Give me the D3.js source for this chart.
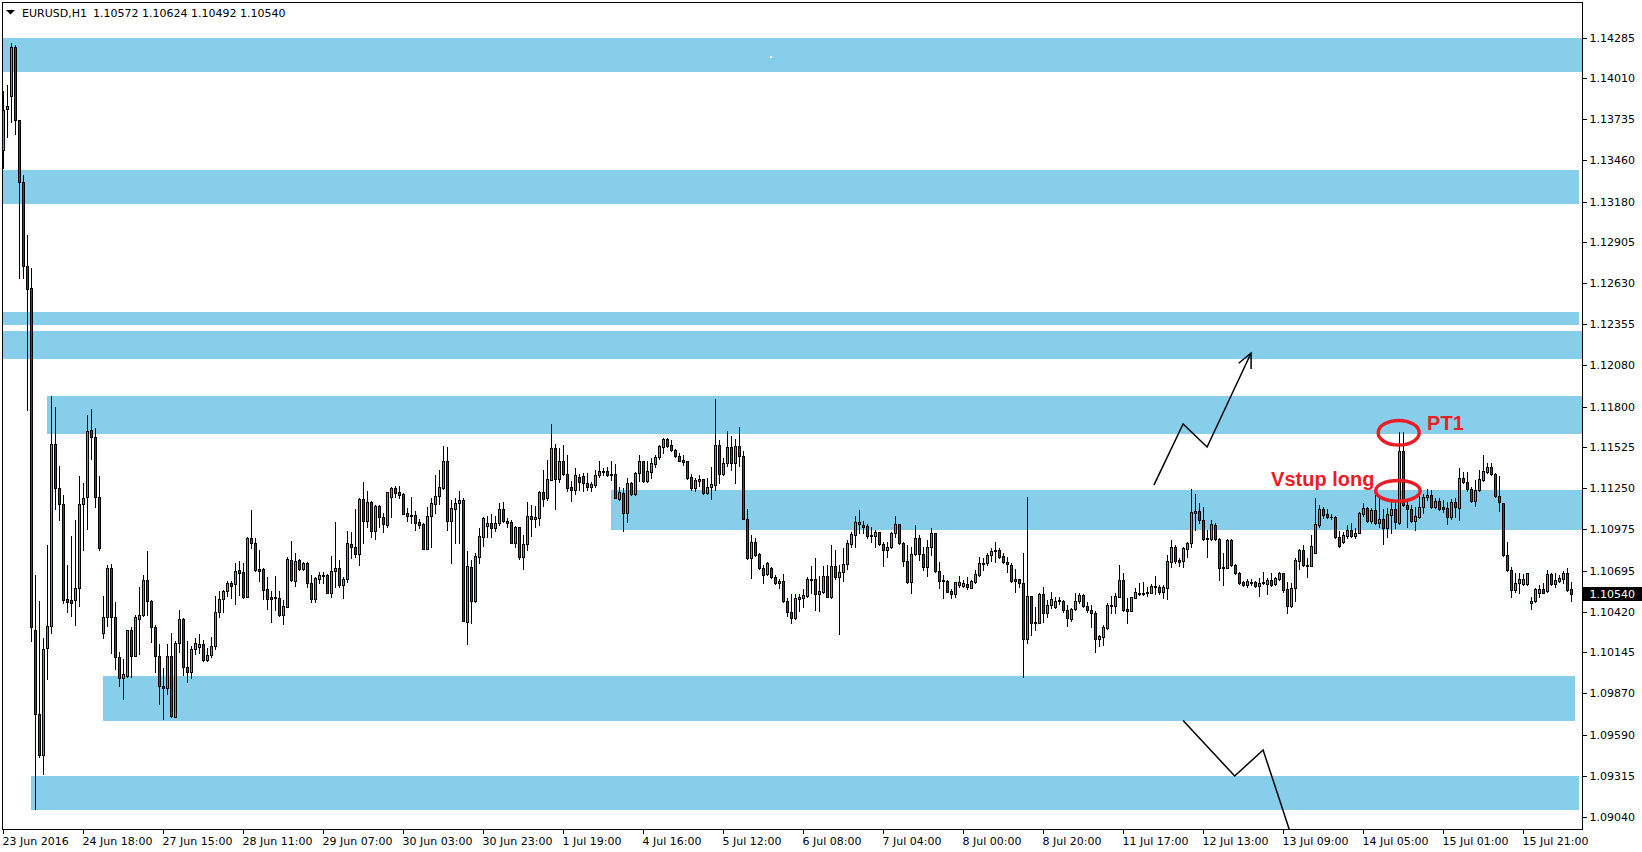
<!DOCTYPE html>
<html><head><meta charset="utf-8">
<script src="https://cdn.jsdelivr.net/npm/d3@7"></script>
<style>html,body{margin:0;padding:0;background:#fff;overflow:hidden}svg{display:block}</style>
</head><body><svg id="c" width="1642" height="852"></svg>
<script>
// ---- data (EURUSD H1) ----
const open=[1.13528,1.13810,1.13893,1.14222,1.13736,1.13317,1.12748,1.12604,1.10302,1.09733,
1.09455,1.10178,1.10326,1.11552,1.11257,1.11150,1.10510,1.10500,1.10500,1.10580,
1.11150,1.11197,1.11646,1.11599,1.11197,1.10279,1.10386,1.10714,1.10386,1.10118,
1.09977,1.09991,1.10302,1.10125,1.10376,1.10403,1.10637,1.10497,1.10319,1.10125,
1.09924,1.09910,1.10124,1.09716,1.10209,1.10371,1.10048,1.10018,1.10169,1.10187,
1.10202,1.10095,1.10128,1.10189,1.10418,1.10505,1.10562,1.10615,1.10606,1.10701,
1.10687,1.10523,1.10916,1.10882,1.10707,1.10707,1.10573,1.10519,1.10519,1.10512,
1.10398,1.10456,1.10768,1.10627,1.10770,1.10710,1.10750,1.10615,1.10510,1.10645,
1.10665,1.10669,1.10550,1.10694,1.10714,1.10604,1.10640,1.10876,1.10856,1.10808,
1.11181,1.11031,1.11158,1.10968,1.11134,1.11057,1.11008,1.11197,1.11255,1.11228,
1.11212,1.11084,1.11073,1.11073,1.11024,1.11013,1.10847,1.11066,1.11149,1.11199,
1.11255,1.11437,1.11035,1.11116,1.11152,1.11174,1.10355,1.10721,1.10496,1.10793,
1.10927,1.11001,1.11017,1.10988,1.11017,1.11111,1.11031,1.11024,1.10887,1.10990,
1.10793,1.10876,1.11066,1.11044,1.11051,1.11228,1.11188,1.11311,1.11522,1.11316,
1.11437,1.11347,1.11262,1.11244,1.11329,1.11333,1.11286,1.11264,1.11277,1.11340,
1.11363,1.11367,1.11349,1.11347,1.11183,1.11219,1.11084,1.11286,1.11217,1.11354,
1.11437,1.11304,1.11365,1.11417,1.11461,1.11529,1.11583,1.11544,1.11511,1.11470,
1.11443,1.11437,1.11327,1.11255,1.11304,1.11313,1.11221,1.11259,1.11277,1.11544,
1.11351,1.11421,1.11529,1.11425,1.11535,1.11470,1.11048,1.10781,1.10889,1.10811,
1.10714,1.10674,1.10719,1.10654,1.10613,1.10629,1.10492,1.10418,1.10382,1.10510,
1.10517,1.10530,1.10636,1.10642,1.10544,1.10557,1.10660,1.10519,1.10730,1.10658,
1.10692,1.10741,1.10880,1.10941,1.11010,1.11006,1.10999,1.10941,1.10934,1.10956,
1.10876,1.10840,1.10855,1.10950,1.11010,1.10887,1.10766,1.10624,1.10808,1.10916,
1.10813,1.10725,1.10860,1.10950,1.10698,1.10636,1.10631,1.10561,1.10539,1.10604,
1.10597,1.10611,1.10584,1.10624,1.10669,1.10741,1.10748,1.10804,1.10828,1.10837,
1.10797,1.10757,1.10739,1.10640,1.10640,1.10618,1.10238,1.10528,1.10355,1.10348,
1.10541,1.10411,1.10467,1.10452,1.10501,1.10494,1.10434,1.10371,1.10438,1.10492,
1.10535,1.10463,1.10434,1.10416,1.10241,1.10250,1.10310,1.10460,1.10463,1.10523,
1.10636,1.10438,1.10429,1.10517,1.10541,1.10544,1.10546,1.10550,1.10586,1.10591,
1.10557,1.10584,1.10759,1.10860,1.10770,1.10761,1.10846,1.10882,1.11084,1.11100,
1.11039,1.10916,1.10912,1.11006,1.10914,1.10722,1.10719,1.10906,1.10737,1.10686,
1.10625,1.10603,1.10618,1.10625,1.10598,1.10616,1.10607,1.10636,1.10607,1.10645,
1.10681,1.10573,1.10461,1.10585,1.10766,1.10838,1.10737,1.10733,1.10820,1.11006,
1.11114,1.11078,1.11063,1.11063,1.10923,1.10894,1.10935,1.10971,1.10935,1.10955,
1.11081,1.11119,1.11036,1.11107,1.11022,1.11047,1.10984,1.11074,1.11112,1.11020,
1.11505,1.11141,1.11112,1.11036,1.11063,1.11125,1.11193,1.11206,1.11125,1.11168,
1.11130,1.11119,1.11058,1.11159,1.11123,1.11321,1.11298,1.11247,1.11170,1.11242,
1.11309,1.11366,1.11399,1.11350,1.11204,1.11152,1.10805,1.10704,1.10569,1.10614,
1.10609,1.10609,1.10479,1.10495,1.10551,1.10573,1.10564,1.10677,1.10609,1.10632,
1.10641,1.10681,1.10572];
const high=[1.13927,1.13971,1.14249,1.14240,1.13736,1.13361,1.12959,1.12738,1.10671,1.10493,
1.10245,1.10872,1.11877,1.11800,1.11401,1.11207,1.10738,1.10929,1.11039,1.11334,
1.11291,1.11749,1.11786,1.11659,1.11334,1.10527,1.10738,1.10744,1.10486,1.10151,
1.10101,1.10302,1.10319,1.10403,1.10587,1.10671,1.10832,1.10503,1.10336,1.10202,
1.10044,1.10202,1.10277,1.10227,1.10434,1.10380,1.10225,1.10194,1.10245,1.10272,
1.10232,1.10176,1.10252,1.10528,1.10564,1.10568,1.10629,1.10629,1.10752,1.10764,
1.10752,1.10927,1.11107,1.10916,1.10838,1.10714,1.10654,1.10562,1.10663,1.10562,
1.10501,1.10793,1.10898,1.10815,1.10777,1.10759,1.10755,1.10667,1.10654,1.10692,
1.10687,1.10676,1.10797,1.11024,1.10770,1.10658,1.10965,1.10956,1.11111,1.11190,
1.11295,1.11235,1.11165,1.11140,1.11140,1.11089,1.11230,1.11264,1.11268,1.11268,
1.11219,1.11120,1.11197,1.11100,1.11044,1.11017,1.11127,1.11188,1.11342,1.11376,
1.11538,1.11533,1.11174,1.11190,1.11235,1.11185,1.10831,1.10770,1.10815,1.10983,
1.11062,1.11069,1.11080,1.11066,1.11156,1.11158,1.11051,1.11040,1.11001,1.10995,
1.10939,1.11158,1.11138,1.11134,1.11232,1.11376,1.11443,1.11686,1.11549,1.11522,
1.11544,1.11477,1.11302,1.11387,1.11347,1.11354,1.11358,1.11298,1.11376,1.11437,
1.11387,1.11394,1.11434,1.11417,1.11259,1.11253,1.11325,1.11298,1.11365,1.11477,
1.11440,1.11437,1.11455,1.11475,1.11542,1.11590,1.11590,1.11578,1.11515,1.11493,
1.11475,1.11440,1.11349,1.11320,1.11342,1.11316,1.11325,1.11399,1.11854,1.11578,
1.11455,1.11639,1.11607,1.11585,1.11663,1.11504,1.11114,1.10939,1.10916,1.10815,
1.10737,1.10759,1.10725,1.10669,1.10640,1.10676,1.10512,1.10539,1.10539,1.10539,
1.10573,1.10658,1.10730,1.10784,1.10665,1.10730,1.10734,1.10871,1.10835,1.10737,
1.10849,1.10905,1.10961,1.11066,1.11107,1.11035,1.11010,1.10990,1.10972,1.10961,
1.10889,1.10894,1.10961,1.11066,1.11013,1.10891,1.10871,1.10860,1.11006,1.10938,
1.10860,1.10905,1.10983,1.10954,1.10754,1.10669,1.10636,1.10573,1.10624,1.10662,
1.10636,1.10653,1.10636,1.10703,1.10788,1.10781,1.10815,1.10849,1.10894,1.10849,
1.10815,1.10793,1.10752,1.10707,1.10645,1.10815,1.11197,1.10530,1.10456,1.10546,
1.10591,1.10501,1.10552,1.10523,1.10523,1.10501,1.10465,1.10445,1.10546,1.10550,
1.10541,1.10490,1.10467,1.10427,1.10265,1.10333,1.10478,1.10528,1.10546,1.10736,
1.10685,1.10512,1.10523,1.10579,1.10613,1.10620,1.10591,1.10606,1.10662,1.10602,
1.10602,1.10804,1.10905,1.10871,1.10781,1.10860,1.10894,1.11248,1.11214,1.11152,
1.11129,1.10972,1.11039,1.11017,1.10916,1.10816,1.10910,1.10910,1.10742,1.10690,
1.10630,1.10641,1.10641,1.10632,1.10647,1.10688,1.10647,1.10686,1.10659,1.10692,
1.10686,1.10625,1.10618,1.10782,1.10845,1.10872,1.10787,1.10939,1.11186,1.11141,
1.11125,1.11112,1.11078,1.11068,1.10966,1.10962,1.11006,1.11018,1.10984,1.11096,
1.11152,1.11125,1.11119,1.11208,1.11191,1.11114,1.11119,1.11164,1.11175,1.11635,
1.11635,1.11179,1.11141,1.11130,1.11202,1.11215,1.11247,1.11242,1.11186,1.11191,
1.11175,1.11164,1.11179,1.11186,1.11388,1.11366,1.11366,1.11260,1.11309,1.11377,
1.11478,1.11426,1.11426,1.11359,1.11336,1.11152,1.10894,1.10722,1.10681,1.10681,
1.10677,1.10686,1.10524,1.10580,1.10603,1.10618,1.10704,1.10681,1.10681,1.10670,
1.10699,1.10715,1.10624];
const low=[1.13408,1.13619,1.13719,1.13636,1.12671,1.12671,1.11783,1.10225,1.09096,1.09441,
1.09331,1.09967,1.10279,1.11116,1.11039,1.10480,1.10420,1.10393,1.10336,1.10463,
1.10838,1.10982,1.11448,1.11130,1.10838,1.10245,1.10326,1.10145,1.10034,1.09924,
1.09833,1.09984,1.09984,1.10125,1.10135,1.10393,1.10403,1.10218,1.10017,1.09800,
1.09699,1.09867,1.09716,1.09711,1.10153,1.09996,1.09947,1.09978,1.10135,1.10142,
1.10090,1.10090,1.10119,1.10169,1.10389,1.10422,1.10528,1.10517,1.10472,1.10535,
1.10517,1.10519,1.10849,1.10698,1.10631,1.10510,1.10440,1.10351,1.10434,1.10395,
1.10337,1.10452,1.10631,1.10597,1.10703,1.10703,1.10586,1.10485,1.10485,1.10613,
1.10618,1.10546,1.10519,1.10591,1.10586,1.10512,1.10624,1.10781,1.10793,1.10734,
1.10887,1.10995,1.10927,1.10909,1.10995,1.10961,1.10995,1.11062,1.11197,1.11185,
1.11078,1.11035,1.11017,1.10972,1.10983,1.10843,1.10842,1.10860,1.11084,1.11147,
1.11248,1.10972,1.10752,1.10887,1.10887,1.10358,1.10205,1.10344,1.10490,1.10752,
1.10867,1.10927,1.10927,1.10965,1.11006,1.11028,1.10990,1.10882,1.10860,1.10779,
1.10710,1.10838,1.10934,1.10995,1.11006,1.11134,1.11174,1.11307,1.11116,1.11298,
1.11342,1.11237,1.11170,1.11215,1.11241,1.11237,1.11241,1.11235,1.11264,1.11331,
1.11342,1.11336,1.11309,1.11185,1.11174,1.10968,1.11024,1.11208,1.11206,1.11304,
1.11298,1.11298,1.11322,1.11399,1.11452,1.11493,1.11533,1.11506,1.11461,1.11434,
1.11410,1.11313,1.11241,1.11235,1.11268,1.11215,1.11217,1.11183,1.11241,1.11286,
1.11345,1.11405,1.11376,1.11291,1.11403,1.11044,1.10777,1.10651,1.10799,1.10707,
1.10613,1.10669,1.10647,1.10609,1.10579,1.10488,1.10393,1.10348,1.10371,1.10429,
1.10456,1.10523,1.10546,1.10436,1.10425,1.10546,1.10519,1.10515,1.10642,1.10272,
1.10629,1.10707,1.10860,1.10860,1.10950,1.10950,1.10921,1.10894,1.10860,1.10871,
1.10730,1.10793,1.10849,1.10927,1.10878,1.10732,1.10618,1.10550,1.10804,1.10770,
1.10703,1.10665,1.10804,1.10692,1.10579,1.10517,1.10552,1.10512,1.10523,1.10591,
1.10586,1.10577,1.10579,1.10613,1.10662,1.10703,1.10736,1.10766,1.10759,1.10781,
1.10748,1.10692,1.10622,1.10557,1.10591,1.09985,1.10209,1.10263,1.10299,1.10344,
1.10355,1.10389,1.10445,1.10445,1.10474,1.10422,1.10328,1.10362,1.10434,1.10478,
1.10456,1.10422,1.10321,1.10149,1.10193,1.10198,1.10306,1.10411,1.10411,1.10519,
1.10427,1.10348,1.10427,1.10512,1.10535,1.10535,1.10528,1.10546,1.10541,1.10541,
1.10512,1.10508,1.10725,1.10748,1.10730,1.10725,1.10788,1.10860,1.10972,1.11017,
1.10905,1.10788,1.10905,1.10905,1.10636,1.10603,1.10715,1.10730,1.10677,1.10609,
1.10596,1.10591,1.10603,1.10591,1.10531,1.10609,1.10542,1.10598,1.10603,1.10636,
1.10558,1.10412,1.10457,1.10493,1.10713,1.10733,1.10659,1.10730,1.10816,1.10995,
1.11051,1.11051,1.11045,1.10921,1.10861,1.10888,1.10921,1.10928,1.10917,1.10950,
1.11069,1.11029,1.11022,1.11013,1.10995,1.10879,1.10923,1.10955,1.10984,1.11011,
1.11134,1.10995,1.11029,1.10973,1.11051,1.11090,1.11175,1.11119,1.11119,1.11107,
1.11096,1.11013,1.11045,1.11063,1.11040,1.11287,1.11238,1.11164,1.11134,1.11238,
1.11305,1.11359,1.11343,1.11197,1.11103,1.10800,1.10699,1.10524,1.10558,1.10551,
1.10603,1.10603,1.10439,1.10490,1.10524,1.10546,1.10558,1.10603,1.10591,1.10625,
1.10618,1.10564,1.10492];
const close=[1.13803,1.13830,1.14222,1.13736,1.13317,1.12748,1.12597,1.10319,1.09733,1.09455,
1.10168,1.10326,1.11552,1.11257,1.11150,1.10503,1.10486,1.10483,1.10580,1.11150,
1.11190,1.11639,1.11599,1.11197,1.10848,1.10386,1.10714,1.10386,1.10118,1.09977,
1.10001,1.10302,1.10125,1.10386,1.10403,1.10637,1.10497,1.10319,1.10125,1.09924,
1.09910,1.10125,1.09722,1.10209,1.10371,1.10048,1.10018,1.10169,1.10209,1.10202,
1.10095,1.10128,1.10189,1.10418,1.10505,1.10562,1.10615,1.10597,1.10698,1.10685,
1.10523,1.10916,1.10882,1.10703,1.10698,1.10568,1.10505,1.10505,1.10512,1.10398,
1.10461,1.10777,1.10636,1.10764,1.10710,1.10750,1.10618,1.10510,1.10647,1.10667,
1.10671,1.10550,1.10694,1.10714,1.10604,1.10640,1.10882,1.10856,1.10808,1.11181,
1.11035,1.11158,1.10968,1.11134,1.11057,1.11015,1.11226,1.11255,1.11224,1.11210,
1.11082,1.11069,1.11069,1.11022,1.11008,1.10847,1.11066,1.11152,1.11201,1.11259,
1.11437,1.11035,1.11120,1.11152,1.11174,1.10362,1.10730,1.10496,1.10797,1.10932,
1.11053,1.11017,1.10988,1.11019,1.11111,1.11031,1.11022,1.10887,1.10990,1.10793,
1.10876,1.11066,1.11044,1.11060,1.11228,1.11183,1.11316,1.11522,1.11316,1.11437,
1.11347,1.11257,1.11244,1.11340,1.11295,1.11286,1.11264,1.11282,1.11340,1.11367,
1.11372,1.11345,1.11342,1.11190,1.11226,1.11084,1.11286,1.11217,1.11354,1.11437,
1.11304,1.11369,1.11421,1.11461,1.11538,1.11583,1.11540,1.11511,1.11470,1.11439,
1.11432,1.11320,1.11255,1.11309,1.11316,1.11221,1.11264,1.11282,1.11544,1.11351,
1.11421,1.11529,1.11425,1.11535,1.11470,1.11048,1.10781,1.10889,1.10804,1.10714,
1.10671,1.10748,1.10654,1.10618,1.10629,1.10492,1.10418,1.10382,1.10512,1.10521,
1.10535,1.10642,1.10642,1.10544,1.10562,1.10660,1.10523,1.10730,1.10658,1.10692,
1.10741,1.10885,1.10945,1.11024,1.11024,1.10995,1.10934,1.10932,1.10956,1.10876,
1.10840,1.10855,1.10950,1.11010,1.10887,1.10766,1.10624,1.10808,1.10916,1.10813,
1.10725,1.10860,1.10950,1.10698,1.10631,1.10629,1.10557,1.10539,1.10620,1.10622,
1.10613,1.10586,1.10629,1.10674,1.10748,1.10752,1.10804,1.10831,1.10837,1.10793,
1.10754,1.10741,1.10627,1.10627,1.10618,1.10238,1.10528,1.10348,1.10348,1.10541,
1.10411,1.10467,1.10505,1.10494,1.10492,1.10431,1.10377,1.10440,1.10492,1.10535,
1.10463,1.10434,1.10411,1.10241,1.10259,1.10317,1.10467,1.10469,1.10528,1.10636,
1.10431,1.10429,1.10521,1.10552,1.10550,1.10550,1.10552,1.10595,1.10595,1.10557,
1.10591,1.10763,1.10855,1.10763,1.10759,1.10851,1.10882,1.11091,1.11100,1.11039,
1.10909,1.10909,1.11010,1.10914,1.10714,1.10715,1.10906,1.10737,1.10681,1.10614,
1.10600,1.10630,1.10625,1.10598,1.10618,1.10625,1.10636,1.10603,1.10647,1.10681,
1.10569,1.10461,1.10585,1.10771,1.10838,1.10737,1.10733,1.10867,1.11011,1.11114,
1.11076,1.11063,1.11058,1.10923,1.10867,1.10939,1.10971,1.10935,1.10955,1.11085,
1.11119,1.11036,1.11107,1.11022,1.11047,1.10984,1.11078,1.11112,1.11024,1.11505,
1.11141,1.11112,1.11036,1.11067,1.11130,1.11193,1.11206,1.11125,1.11168,1.11114,
1.11114,1.11058,1.11164,1.11125,1.11321,1.11294,1.11247,1.11170,1.11242,1.11314,
1.11370,1.11399,1.11350,1.11204,1.11159,1.10805,1.10704,1.10569,1.10618,1.10641,
1.10641,1.10681,1.10495,1.10576,1.10576,1.10551,1.10677,1.10609,1.10636,1.10647,
1.10681,1.10569,1.10540];

const priceTicks=[1.14285,1.14010,1.13735,1.13460,1.13180,1.12905,1.12630,1.12355,1.12080,1.11800,
1.11525,1.11250,1.10975,1.10695,1.10420,1.10145,1.09870,1.09590,1.09315,1.09040];
const timeLabels=["23 Jun 2016","24 Jun 18:00","27 Jun 15:00","28 Jun 11:00","29 Jun 07:00","30 Jun 03:00",
"30 Jun 23:00","1 Jul 19:00","4 Jul 16:00","5 Jul 12:00","6 Jul 08:00","7 Jul 04:00","8 Jul 00:00",
"8 Jul 20:00","11 Jul 17:00","12 Jul 13:00","13 Jul 09:00","14 Jul 05:00","15 Jul 01:00","15 Jul 21:00"];
const timeLabelBars=[0,20,40,60,80,100,120,140,160,180,200,220,240,260,280,300,320,340,360,380];

// support / resistance zones (price band, bar span)
const zoneTop=[1.14287,1.13399,1.12442,1.12315,1.11877,1.11242,1.09989,1.09316];
const zoneBottom=[1.14053,1.13166,1.12353,1.12124,1.11620,1.10972,1.09686,1.09087];
const zoneFrom=[-2,-2,-2,-2,10.9,151.9,24.9,6.9];
const zoneTo=[400,393.9,393.9,400,400,400,392.9,393.9];

// hand-drawn annotations (bar index, price)
const upPathBars=[287.6,294.9,300.9,311.9], upPathPrices=[1.11275,1.11686,1.11531,1.12164];
const upHeadBars=[308.8,311.9,311.9], upHeadPrices=[1.12095,1.12164,1.12056];
const downPathBars=[294.9,307.8,314.9,321.9], downPathPrices=[1.09690,1.09316,1.09491,1.08919];
const ellipseBars=[348.8,348.6], ellipsePrices=[1.11627,1.11236];
const noteTexts=["PT1","Vstup long"], noteBars=[355.9,316.9], notePrices=[1.11649,1.11269];
const title="EURUSD,H1", titleValues="1.10572 1.10624 1.10492 1.10540";

// ---- drawing ----
const W=1642,H=852;
const svg=d3.select("#c");
svg.append("rect").attr("width",W).attr("height",H).attr("fill","#fff");
const x=d3.scaleLinear().domain([0,392]).range([3.5,1571.5]);
const y=d3.scaleLinear().domain([1.09040,1.14285]).range([817,38]);
const FONT="'DejaVu Sans', Verdana, sans-serif";

svg.append("clipPath").attr("id","plot").append("rect").attr("x",3).attr("y",3).attr("width",1579).attr("height",826);
const plot=svg.append("g").attr("clip-path","url(#plot)");

// zones
plot.append("g").attr("shape-rendering","crispEdges").selectAll("rect").data(zoneTop).join("rect")
 .attr("x",(d,i)=>Math.round(x(zoneFrom[i])))
 .attr("width",(d,i)=>Math.round(x(zoneTo[i]))-Math.round(x(zoneFrom[i])))
 .attr("y",(d,i)=>Math.round(y(zoneTop[i])))
 .attr("height",(d,i)=>Math.round(y(zoneBottom[i]))-Math.round(y(zoneTop[i])))
 .attr("fill","#87CEEB");
plot.append("rect").attr("x",Math.round(x(191.6))).attr("y",Math.round(y(1.14167))).attr("width",2).attr("height",2).attr("fill","#fff");

// candles
const idx=d3.range(open.length);
const cg=plot.append("g").attr("shape-rendering","crispEdges");
const c=cg.selectAll("g").data(idx).join("g");
const col=i=>Math.round(x(i)-0.5);
c.append("rect").attr("x",i=>col(i)).attr("width",1)
 .attr("y",i=>Math.round(y(high[i])))
 .attr("height",i=>Math.round(y(low[i]))-Math.round(y(high[i]))+1).attr("fill","#000");
c.append("rect").attr("x",i=>col(i)-1).attr("width",3)
 .attr("y",i=>Math.round(y(Math.max(open[i],close[i]))))
 .attr("height",i=>Math.round(y(Math.min(open[i],close[i])))-Math.round(y(Math.max(open[i],close[i])))+1)
 .attr("fill","#000");
c.filter(i=>Math.round(y(Math.min(open[i],close[i])))-Math.round(y(Math.max(open[i],close[i])))>=2)
 .append("rect").attr("x",i=>col(i)).attr("width",1)
 .attr("y",i=>Math.round(y(Math.max(open[i],close[i])))+1)
 .attr("height",i=>Math.round(y(Math.min(open[i],close[i])))-Math.round(y(Math.max(open[i],close[i])))-1)
 .attr("fill",i=>close[i]>=open[i]?"#00E600":"#E60000");

// annotations
const line=d3.line();
plot.append("path").attr("d",line(upPathBars.map((b,i)=>[x(b),y(upPathPrices[i])])))
 .attr("fill","none").attr("stroke","#000").attr("stroke-width",1.5);
plot.append("path").attr("d",line(upHeadBars.map((b,i)=>[x(b),y(upHeadPrices[i])])))
 .attr("fill","none").attr("stroke","#000").attr("stroke-width",1.5);
plot.append("path").attr("d",line(downPathBars.map((b,i)=>[x(b),y(downPathPrices[i])])))
 .attr("fill","none").attr("stroke","#000").attr("stroke-width",1.5);
const RED="#EC1C24";
plot.selectAll("ellipse").data(ellipseBars).join("ellipse")
 .attr("cx",(d,i)=>x(d)).attr("cy",(d,i)=>y(ellipsePrices[i]))
 .attr("rx",(d,i)=>i===0?20.5:22.3).attr("ry",(d,i)=>i===0?12.3:10.3)
 .attr("fill","none").attr("stroke",RED).attr("stroke-width",3.4);
plot.selectAll("text.note").data(noteTexts).join("text").attr("class","note")
 .attr("x",(d,i)=>x(noteBars[i])).attr("y",(d,i)=>y(notePrices[i]))
 .attr("font-family","'Liberation Sans', Arial, sans-serif").attr("font-weight","bold")
 .attr("font-size",20).attr("fill",RED).text(d=>d);

// frame
svg.append("rect").attr("x",2.5).attr("y",2.5).attr("width",1580).attr("height",827)
 .attr("fill","none").attr("stroke","#000").attr("stroke-width",1).attr("shape-rendering","crispEdges");

// price axis
const ya=svg.append("g").attr("transform","translate(1582.5,0)")
 .call(d3.axisRight(y).tickValues(priceTicks).tickFormat(d=>d.toFixed(5)).tickSize(4).tickPadding(3).offset(0));
ya.select(".domain").remove();
ya.attr("font-family",FONT).attr("font-size",11);
ya.selectAll("line").attr("stroke","#000").attr("shape-rendering","crispEdges");
ya.selectAll("text").attr("fill","#000");

// time axis
const xa=svg.append("g").attr("transform","translate(0,829.5)")
 .call(d3.axisBottom(x).tickValues(timeLabelBars).tickFormat((d,i)=>timeLabels[i]).tickSize(4).tickPadding(3.5).offset(0));
xa.select(".domain").remove();
xa.attr("font-family",FONT).attr("font-size",11);
xa.selectAll("line").attr("stroke","#000").attr("shape-rendering","crispEdges");
xa.selectAll("text").attr("fill","#000").attr("text-anchor","start").attr("x",-1);

// current price label
const last=close[close.length-1];
svg.append("rect").attr("x",1583).attr("y",Math.round(y(last))-7).attr("width",59).attr("height",14).attr("fill","#000");
svg.append("text").attr("x",1589.5).attr("y",y(last)).attr("dy","0.35em")
 .attr("font-family",FONT).attr("font-size",11).attr("fill","#fff").text(last.toFixed(5));

// title
svg.append("path").attr("d","M6,10L15,10L10.5,14.5Z").attr("fill","#000");
svg.append("text").attr("x",22).attr("y",17).attr("font-family",FONT).attr("font-size",11).attr("fill","#000").text(title);
svg.append("text").attr("x",93).attr("y",17).attr("font-family",FONT).attr("font-size",11).attr("fill","#000").text(titleValues);
</script></body></html>
